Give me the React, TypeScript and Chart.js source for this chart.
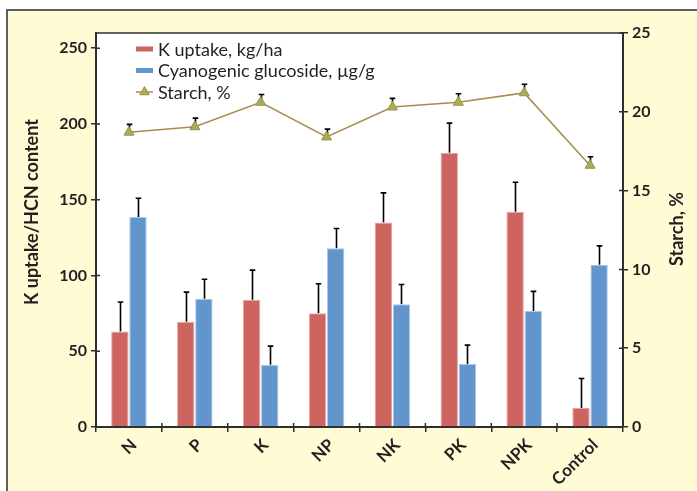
import React, { useEffect, useRef } from 'react';
import { Chart, registerables } from 'chart.js';

Chart.register(...registerables);

const categories = ['N', 'P', 'K', 'NP', 'NK', 'PK', 'NPK', 'Control'];
const kUptake = [63, 69.5, 84, 75, 135, 181, 142, 12.5];
const kUptakeErr = [19.5, 19.5, 19.5, 19.5, 19.5, 19.5, 19.5, 19.5];
const cyanogenic = [138.5, 84.7, 41, 118, 81, 41.5, 76.5, 107];
const cyanogenicErr = [12.5, 12.8, 12.4, 13, 13, 12.5, 13, 12.5];
const starch = [18.7, 19.05, 20.6, 18.4, 20.3, 20.6, 21.2, 16.6];
const starchErr = [0.5, 0.55, 0.5, 0.5, 0.55, 0.55, 0.55, 0.55];
const leftTicks = [0, 50, 100, 150, 200, 250];
const rightTicks = [0, 5, 10, 15, 20, 25];
const seriesNames = ['K uptake, kg/ha', 'Cyanogenic glucoside, µg/g', 'Starch, %'];
const leftTitle = 'K uptake/HCN content';
const rightTitle = 'Starch, %';

const RED = '#CD645F';
const RED_EDGE = '#E9A3A0';
const BLUE = '#6195CB';
const BLUE_EDGE = '#A9C8EA';
const LINE = '#AA8A4E';
const TRI = '#9CB453';
const INK = '#231F20';
const AXIS = '#2E2E2E';
const FONT = 'Lato, "Open Sans", sans-serif';

const errorMap: Record<number, number[]> = { 1: kUptakeErr, 2: cyanogenicErr, 0: starchErr };

const decorPlugin = {
  id: 'decor',
  beforeDraw(chart: any) {
    const { ctx, width, height, chartArea } = chart;
    ctx.save();
    ctx.fillStyle = '#ffffff';
    ctx.fillRect(0, 0, width, height);
    ctx.fillStyle = '#FFFBD4';
    ctx.fillRect(8, 11, width - 8, height - 11);
    ctx.strokeStyle = '#5E5E5E';
    ctx.lineWidth = 2;
    ctx.beginPath();
    ctx.moveTo(7, height);
    ctx.lineTo(7, 10);
    ctx.lineTo(width, 10);
    ctx.stroke();
    ctx.fillStyle = '#ffffff';
    ctx.fillRect(chartArea.left, chartArea.top, chartArea.right - chartArea.left, chartArea.bottom - chartArea.top);
    ctx.restore();
  },
  beforeDatasetsDraw(chart: any) {
    const { ctx } = chart;
    ctx.save();
    ctx.strokeStyle = '#000';
    ctx.lineWidth = 1.6;
    chart.data.datasets.forEach((ds: any, i: number) => {
      const errs = errorMap[i];
      if (!errs) return;
      const meta = chart.getDatasetMeta(i);
      const scale = chart.scales[meta.yAxisID];
      meta.data.forEach((el: any, j: number) => {
        const v = ds.data[j];
        const top = scale.getPixelForValue(v + errs[j]);
        const x = Math.round(el.x) + 0.5;
        ctx.beginPath();
        ctx.moveTo(x, el.y);
        ctx.lineTo(x, top);
        ctx.moveTo(x - 2.8, top);
        ctx.lineTo(x + 2.8, top);
        ctx.stroke();
      });
    });
    ctx.restore();
  },
  afterDraw(chart: any) {
    const { ctx, chartArea } = chart;
    const { left, right, top, bottom } = chartArea;
    ctx.save();
    // plot frame
    ctx.strokeStyle = AXIS;
    ctx.lineWidth = 1.5;
    ctx.beginPath();
    ctx.moveTo(left, top);
    ctx.lineTo(right, top);
    ctx.stroke();
    // inward tick parts
    ctx.lineWidth = 1.5;
    ctx.beginPath();
    const y = chart.scales.y;
    y.ticks.forEach((t: any) => {
      const py = y.getPixelForValue(t.value);
      ctx.moveTo(left, py);
      ctx.lineTo(left + 4, py);
    });
    const y1 = chart.scales.y1;
    y1.ticks.forEach((t: any) => {
      const py = y1.getPixelForValue(t.value);
      ctx.moveTo(right, py);
      ctx.lineTo(right - 4, py);
    });
    for (let i = 0; i <= categories.length; i++) {
      const px = left + ((right - left) * i) / categories.length;
      ctx.moveTo(px, bottom);
      ctx.lineTo(px, bottom - 4);
    }
    ctx.stroke();

    // axis titles
    ctx.fillStyle = INK;
    ctx.font = `bold 18px ${FONT}`;
    ctx.textAlign = 'center';
    ctx.textBaseline = 'middle';
    ctx.save();
    ctx.translate(32, 212);
    ctx.rotate(-Math.PI / 2);
    ctx.fillText(leftTitle, 0, 0);
    ctx.restore();
    ctx.save();
    ctx.translate(677, 229);
    ctx.rotate(-Math.PI / 2);
    ctx.fillText(rightTitle, 0, 0);
    ctx.restore();

    // legend
    const lx = 136;
    const rows = [49, 70.5, 92];
    ctx.font = `18px ${FONT}`;
    ctx.textAlign = 'left';
    ctx.fillStyle = RED;
    ctx.fillRect(lx, rows[0] - 2.5, 17, 5);
    ctx.fillStyle = BLUE;
    ctx.fillRect(lx, rows[1] - 2.5, 17, 5);
    ctx.strokeStyle = LINE;
    ctx.lineWidth = 1.5;
    ctx.beginPath();
    ctx.moveTo(lx, rows[2]);
    ctx.lineTo(lx + 17, rows[2]);
    ctx.stroke();
    const r = 5.5;
    const cx = lx + 8.5;
    const cy = rows[2];
    ctx.beginPath();
    ctx.moveTo(cx, cy - r);
    ctx.lineTo(cx + r * 0.866, cy + r / 2);
    ctx.lineTo(cx - r * 0.866, cy + r / 2);
    ctx.closePath();
    ctx.fillStyle = TRI;
    ctx.fill();
    ctx.lineWidth = 1;
    ctx.stroke();
    ctx.fillStyle = INK;
    seriesNames.forEach((n, i) => ctx.fillText(n, 158, rows[i] + 1));
    ctx.restore();
  },
};

export default function App() {
  const ref = useRef<HTMLCanvasElement | null>(null);
  useEffect(() => {
    if (!ref.current) return;
    const chart = new Chart(ref.current, {
      type: 'bar',
      data: {
        labels: categories,
        datasets: [
          {
            type: 'line',
            label: seriesNames[2],
            data: starch,
            yAxisID: 'y1',
            borderColor: LINE,
            borderWidth: 1.5,
            pointStyle: 'triangle',
            pointRadius: 5.8,
            pointBackgroundColor: TRI,
            pointBorderColor: LINE,
            pointBorderWidth: 1,
            tension: 0,
            order: 0,
          } as any,
          {
            type: 'bar',
            label: seriesNames[0],
            data: kUptake,
            yAxisID: 'y',
            backgroundColor: RED,
            borderColor: RED_EDGE,
            borderWidth: 1,
            borderSkipped: 'bottom',
            categoryPercentage: 0.55,
            barPercentage: 0.96,
            order: 1,
          },
          {
            type: 'bar',
            label: seriesNames[1],
            data: cyanogenic,
            yAxisID: 'y',
            backgroundColor: BLUE,
            borderColor: BLUE_EDGE,
            borderWidth: 1,
            borderSkipped: 'bottom',
            categoryPercentage: 0.55,
            barPercentage: 0.96,
            order: 1,
          },
        ],
      },
      options: {
        responsive: false,
        animation: false,
        layout: { padding: { top: 33, left: 0, right: 0, bottom: 0 } },
        plugins: { legend: { display: false }, tooltip: { enabled: false }, title: { display: false } },
        scales: {
          x: {
            offset: true,
            grid: { display: true, drawOnChartArea: false, drawTicks: true, tickLength: 5, color: AXIS, lineWidth: 1.5, offset: true },
            border: { display: true, color: AXIS, width: 2 },
            ticks: {
              minRotation: 45,
              maxRotation: 45,
              autoSkip: false,
              color: INK,
              font: { family: FONT, size: 17, weight: 'bold' },
              padding: 3,
              labelOffset: 5,
            },
            afterFit(scale: any) {
              scale.height = 64;
            },
          },
          y: {
            position: 'left',
            min: 0,
            max: 260,
            afterBuildTicks(axis: any) {
              axis.ticks = leftTicks.map((v) => ({ value: v }));
            },
            grid: { display: true, drawOnChartArea: false, tickLength: 5, color: AXIS, lineWidth: 1.5 },
            border: { display: true, color: AXIS, width: 2 },
            ticks: { color: INK, font: { family: FONT, size: 16, weight: 'bold' }, padding: 4 },
            afterFit(scale: any) {
              scale.width = 96;
            },
          },
          y1: {
            position: 'right',
            min: 0,
            max: 25,
            afterBuildTicks(axis: any) {
              axis.ticks = rightTicks.map((v) => ({ value: v }));
            },
            grid: { display: true, drawOnChartArea: false, tickLength: 5, color: AXIS, lineWidth: 1.5 },
            border: { display: true, color: AXIS, width: 2 },
            ticks: { color: INK, font: { family: FONT, size: 16, weight: 'bold' }, padding: 4 },
            afterFit(scale: any) {
              scale.width = 74;
            },
          },
        },
      } as any,
      plugins: [decorPlugin],
    });
    return () => chart.destroy();
  }, []);
  return (
    <div style={{ position: 'fixed', left: 0, top: 0, width: 697, height: 491, background: '#fff' }}>
      <canvas ref={ref} width={697} height={491} style={{ display: 'block', width: 697, height: 491 }} />
    </div>
  );
}
